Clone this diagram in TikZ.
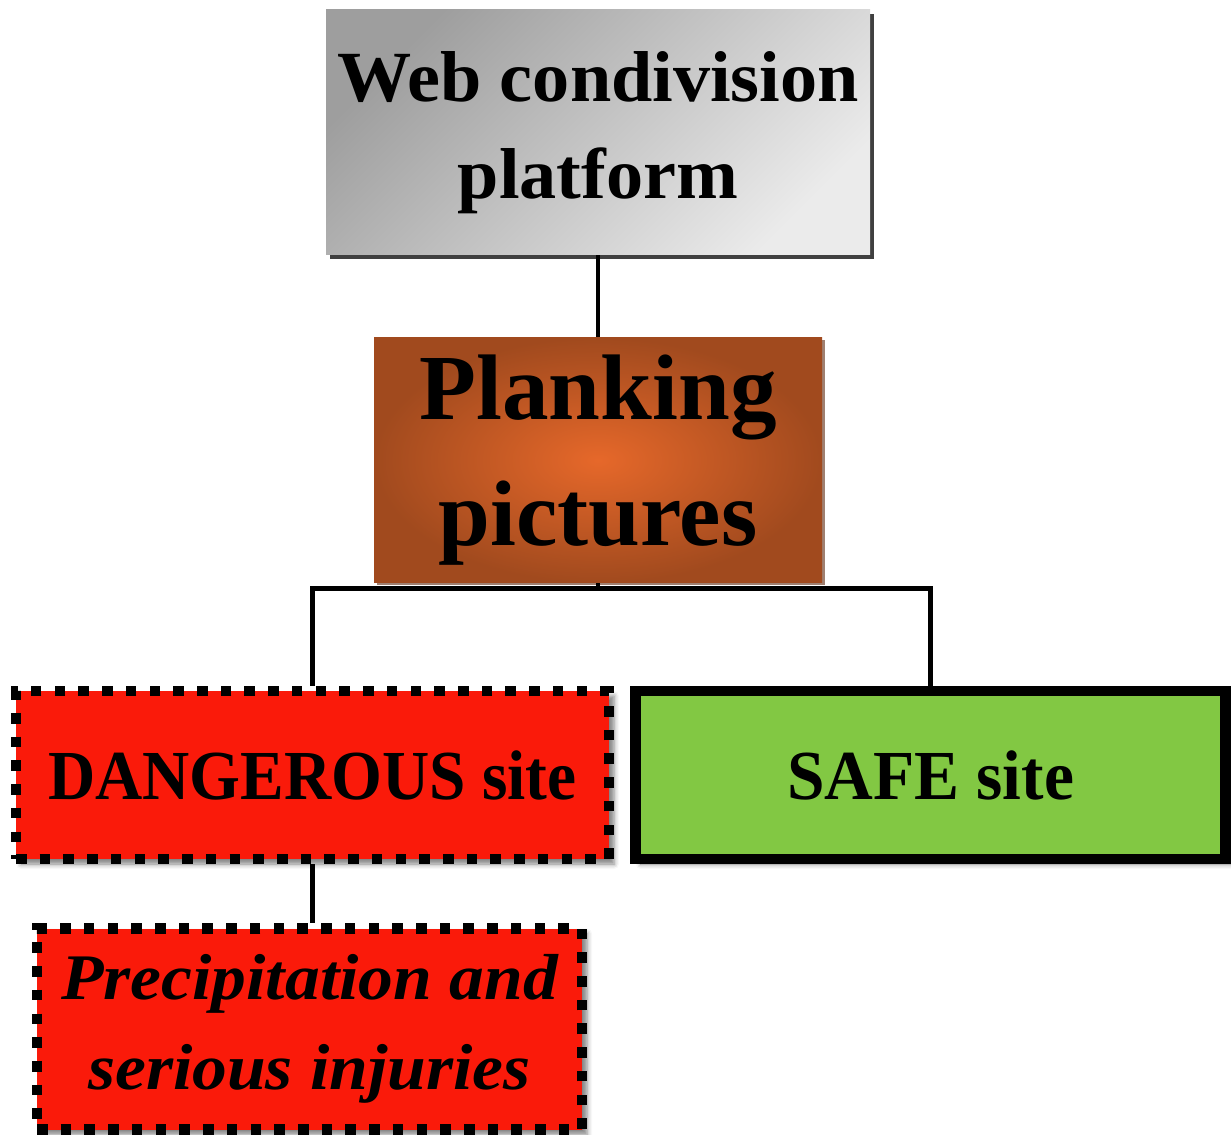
\documentclass[tikz,border=0pt]{standalone}
\usepackage{fontspec}
\setmainfont{Liberation Serif}
\usepackage{xcolor}
\usepackage{tikz}
\usetikzlibrary{positioning, shadows, shadows.blur}

\definecolor{plankedge}{HTML}{A14A1E}
\definecolor{plankmid}{HTML}{E6682A}
\definecolor{dangerred}{HTML}{FA1A0A}
\definecolor{safegreen}{HTML}{82C843}

\begin{document}
\begin{tikzpicture}[auto]
    % Define the style for the nodes
    \tikzstyle{block} = [rectangle, inner sep=0pt, align=center, font=\bfseries]
    \tikzstyle{webblock} = [block, minimum width=10.88cm, minimum height=4.9cm, top color=black!38, bottom color=black!8, shading angle=45, drop shadow={shadow xshift=0.08cm, shadow yshift=-0.08cm, fill=black!75, opacity=1}, font=\fontsize{41}{55}\selectfont\bfseries\addfontfeature{FakeStretch=1.03}]
    \tikzstyle{plankblock} = [block, minimum width=8.96cm, minimum height=4.9cm, inner color=plankmid, outer color=plankedge, drop shadow={shadow xshift=0.05cm, shadow yshift=-0.05cm, fill=plankedge!60!black, opacity=0.6}, font=\fontsize{53}{72}\selectfont\bfseries]
    \tikzstyle{dotblock} = [block, draw, fill=dangerred, line width=6pt, dash pattern=on 6pt off 7.5pt, blur shadow={shadow xshift=0.1cm, shadow yshift=-0.1cm, shadow blur radius=0.1cm, shadow opacity=50}]
    \tikzstyle{safeblock} = [block, draw, fill=safegreen, line width=6.2pt, blur shadow={shadow xshift=0.1cm, shadow yshift=-0.1cm, shadow blur radius=0.1cm, shadow opacity=50}]
    \tikzstyle{line} = [draw, line width=2.8pt]

    \useasboundingbox (0,0) rectangle (24.62,-22.7);

    % Place the nodes
    \node [webblock] (web) at (11.96,-2.65) {Web condivision\\platform};
    \node [plankblock, below=1.64cm of web] (plank) {Planking\\pictures};
    \node [dotblock, minimum width=11.86cm, minimum height=3.36cm, font=\fontsize{40}{48}\selectfont\bfseries\addfontfeature{FakeStretch=0.93}] (danger) at (6.25,-15.5) {DANGEROUS site};
    \node [safeblock, minimum width=11.8cm, minimum height=3.36cm, font=\fontsize{40}{48}\selectfont\bfseries\addfontfeature{FakeStretch=0.96}, right=0.32cm of danger] (safe) {SAFE site};
    \node [dotblock, minimum width=10.9cm, minimum height=4.02cm, font=\fontsize{37}{51}\selectfont\bfseries\itshape\addfontfeature{FakeStretch=1.07}, below=1.18cm of danger, xshift=-0.06cm] (precip) {Precipitation and\\serious injuries};
    \coordinate [below=0.11cm of plank] (split);

    % Connect the nodes with paths
    \path [line] (web) -- (plank);
    \path [line] (plank) -- (split);
    \path [line] (danger.north) |- (split) -| (safe.north);
    \path [line] (danger.south) -- (danger.south |- precip.north);
\end{tikzpicture}
\end{document}
